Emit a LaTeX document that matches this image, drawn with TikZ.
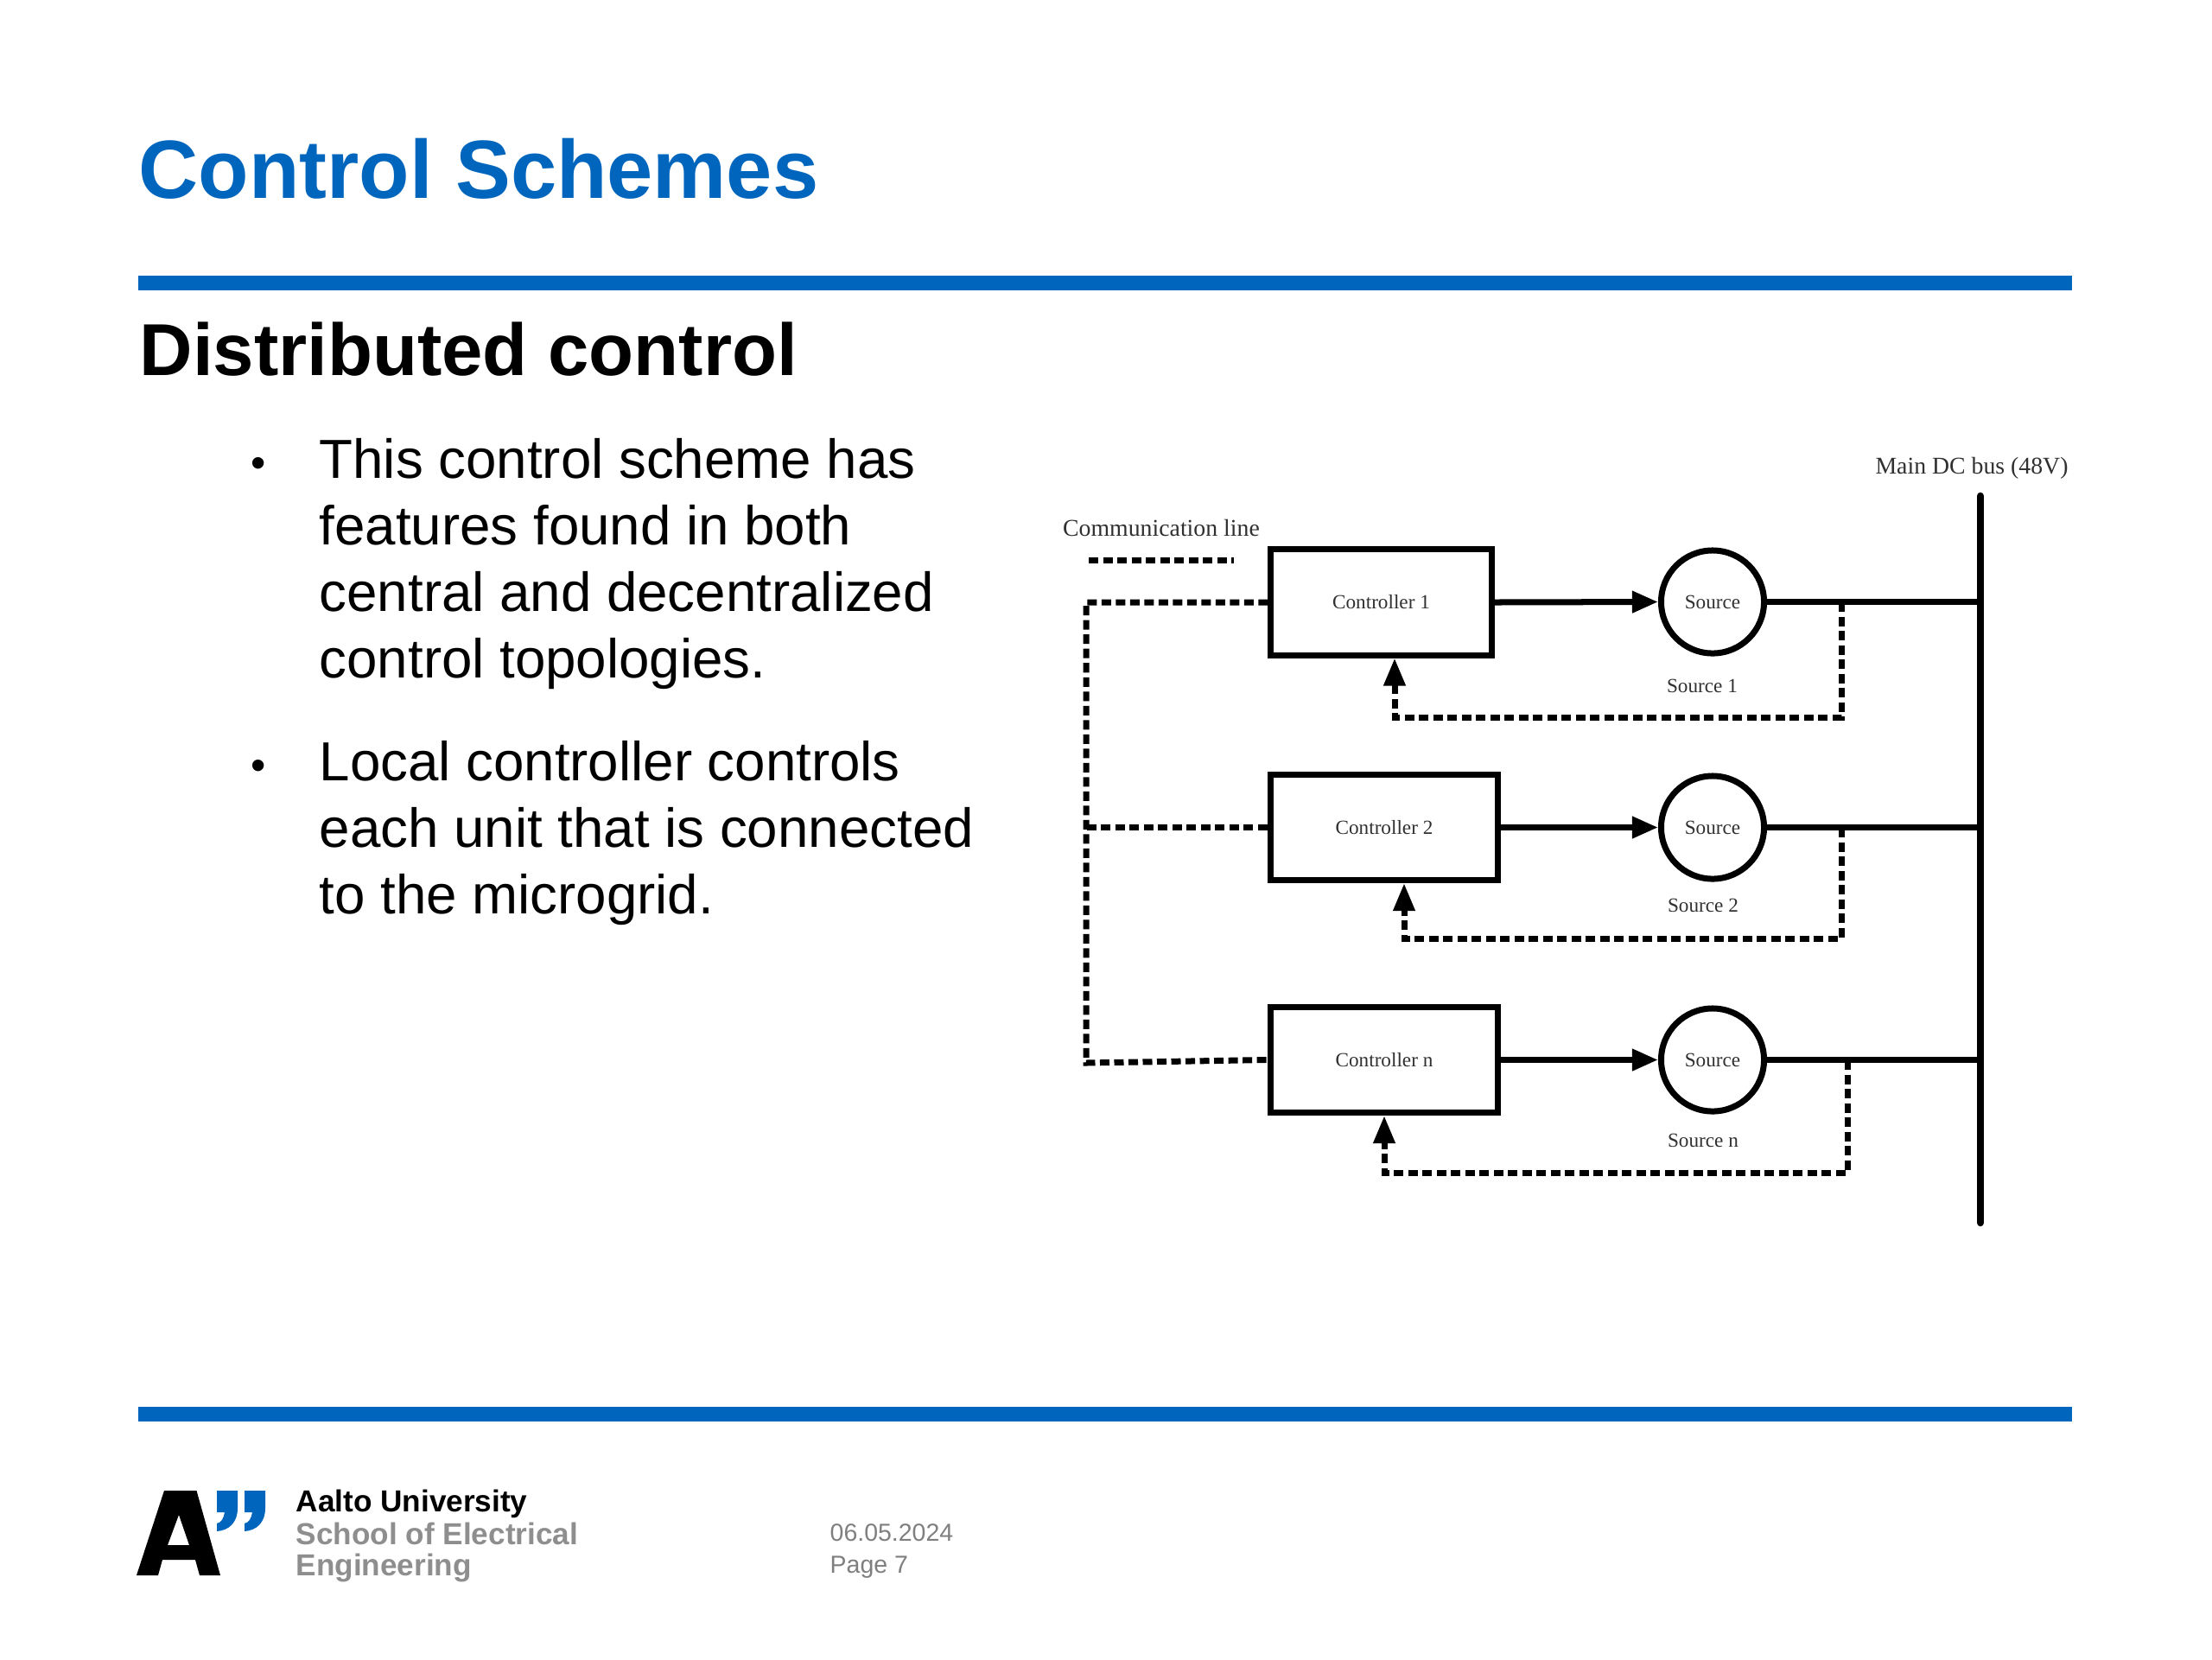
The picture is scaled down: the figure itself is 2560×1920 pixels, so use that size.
\documentclass[tikz,border=0pt]{standalone}
\usepackage{fontspec}
\setmainfont{Liberation Sans}
\newfontfamily\serifdiag{Liberation Serif}
\usetikzlibrary{arrows.meta,calc}
\definecolor{aaltoblue}{HTML}{0065BD}
\definecolor{logogray}{HTML}{8E8E8E}
\definecolor{dategray}{HTML}{7F7F7F}
\definecolor{diagtext}{HTML}{303030}
\tikzset{
  rulebar/.style={line width=0.17cm,draw=aaltoblue},
  ctrlbox/.style={draw=black,line width=0.07cm,minimum height=1.22cm,inner sep=0,font=\serifdiag\fontsize{6.6}{8}\selectfont,text=diagtext},
  srccircle/.style={circle,draw=black,line width=0.07cm,minimum size=1.19cm,inner sep=0,font=\serifdiag\fontsize{6.6}{8}\selectfont,text=diagtext},
  difflabel/.style={inner sep=0,anchor=base,font=\serifdiag\fontsize{6.6}{8}\selectfont,text=diagtext},
  biglabel/.style={inner sep=0,anchor=base,font=\serifdiag\fontsize{7.9}{9.5}\selectfont,text=diagtext},
  powerline/.style={line width=0.07cm,draw=black},
  powerarrow/.style={powerline,-{Triangle[length=0.3cm,width=0.24cm]}},
  commline/.style={line width=0.07cm,draw=black,dash pattern=on 0.11cm off 0.055cm},
  commarrow/.style={commline,-{Triangle[length=0.32cm,width=0.24cm]}},
  busline/.style={line width=0.085cm,draw=black,line cap=round},
  bodytext/.style={inner sep=0,anchor=north west,align=left,font=\fontsize{18.1}{21.83}\selectfont},
  bullettext/.style={inner sep=0,anchor=base,font=\fontsize{14}{17}\selectfont},
  logotext/.style={inner sep=0,anchor=base west,font=\bfseries\fontsize{10}{12}\selectfont},
  datetext/.style={inner sep=0,anchor=base west,font=\fontsize{8.1}{10}\selectfont,text=dategray},
}
\begin{document}
\begin{tikzpicture}[x=0.01cm,y=-0.01cm]
\useasboundingbox (0,0) rectangle (2560,1920);
% title
\node[inner sep=0,anchor=base west,text=aaltoblue,font=\bfseries\fontsize{27.2}{32}\selectfont] (title) at (160,229.5) {Control Schemes};
\coordinate (r1a) at (160,327); \coordinate (r1b) at (2398,327);
\draw[rulebar] (r1a) -- (r1b);
\coordinate (r2a) at (160,1636); \coordinate (r2b) at (2398,1636);
\draw[rulebar] (r2a) -- (r2b);
\node[inner sep=0,anchor=base west,font=\bfseries\fontsize{24.2}{29}\selectfont] (sub) at (161,434) {Distributed control};
% body
\node[bullettext] (b1) at (299,552) {•};
\node[bodytext] (p1) at (369,507) {This control scheme has\\features found in both\\central and decentralized\\control topologies.};
\node[bullettext] (b2) at (299,902) {•};
\node[bodytext] (p2) at (369,857) {Local controller controls\\each unit that is connected\\to the microgrid.};
% diagram
\node[biglabel] (commlabel) at (1344,620) {Communication line};
\coordinate (leg1) at (1260,648); \coordinate (leg2) at (1428,648);
\draw[commline] (leg1) -- (leg2);
\node[biglabel] (buslabel) at (2282,548) {Main DC bus (48V)};
\coordinate (bustop) at (2292,574); \coordinate (busbot) at (2292,1415);
\draw[busline] (bustop) -- (busbot);
% row 1
\node[ctrlbox,minimum width=2.55cm] (ctrl1) at (1598.5,697) {Controller 1};
\node[srccircle] (src1) at (1982,696.5) {Source};
\node[difflabel] (srcl1) at (1970,801) {Source 1};
% row 2
\node[ctrlbox,minimum width=2.63cm] (ctrl2) at (1602,957.5) {Controller 2};
\node[srccircle] (src2) at (1982,957.5) {Source};
\node[difflabel] (srcl2) at (1971,1055) {Source 2};
% row 3
\node[ctrlbox,minimum width=2.63cm] (ctrl3) at (1602,1226.5) {Controller n};
\node[srccircle] (src3) at (1982,1226.5) {Source};
\node[difflabel] (srcl3) at (1971,1327) {Source n};
% connectors
\foreach \i in {1,2,3} {
  \draw[powerarrow] (ctrl\i.east) -- (src\i.west);
  \draw[powerline] (src\i.east) -- (src\i -| bustop);
}
\coordinate (tap1) at (2131,697); \coordinate (fb1) at (1614,830);
\coordinate (tap2) at (2131,958); \coordinate (fb2) at (1625,1086);
\coordinate (tap3) at (2138,1227); \coordinate (fb3) at (1602,1357);
\foreach \i in {1,2,3} {
  \draw[commarrow] (tap\i) |- (fb\i) -- (fb\i |- ctrl\i.south);
}
\coordinate (corner) at (1257,1230);
\draw[commline] (ctrl1.west) -| (corner) -- (ctrl3.west);
\draw[commline] (ctrl2.west) -- (ctrl2.west -| corner);
% logo
\fill[black] (158,1823) -- (190,1725) -- (227.5,1725) -- (255,1823) -- (231,1823) -- (226,1805) -- (188,1805) -- (183,1823) -- cycle
  (207,1753) -- (194,1788) -- (219,1788) -- cycle;
\fill[aaltoblue] (251,1725) -- (275,1725) -- (275,1745) .. controls (275,1762) and (265,1771) .. (251,1772) -- (251,1763) .. controls (256,1762) and (259,1757) .. (260,1750) -- (251,1750) -- cycle;
\fill[aaltoblue] (283,1725) -- (307,1725) -- (307,1745) .. controls (307,1762) and (297,1771) .. (283,1772) -- (283,1763) .. controls (288,1762) and (291,1757) .. (292,1750) -- (283,1750) -- cycle;
\node[logotext] (org1) at (342,1749) {Aalto University};
\node[logotext,text=logogray] (org2) at (342,1787) {School of Electrical};
\node[logotext,text=logogray] (org3) at (342,1823) {Engineering};
\node[datetext] (date) at (960,1783) {06.05.2024};
\node[datetext] (page) at (960,1820) {Page 7};
\end{tikzpicture}
\end{document}
